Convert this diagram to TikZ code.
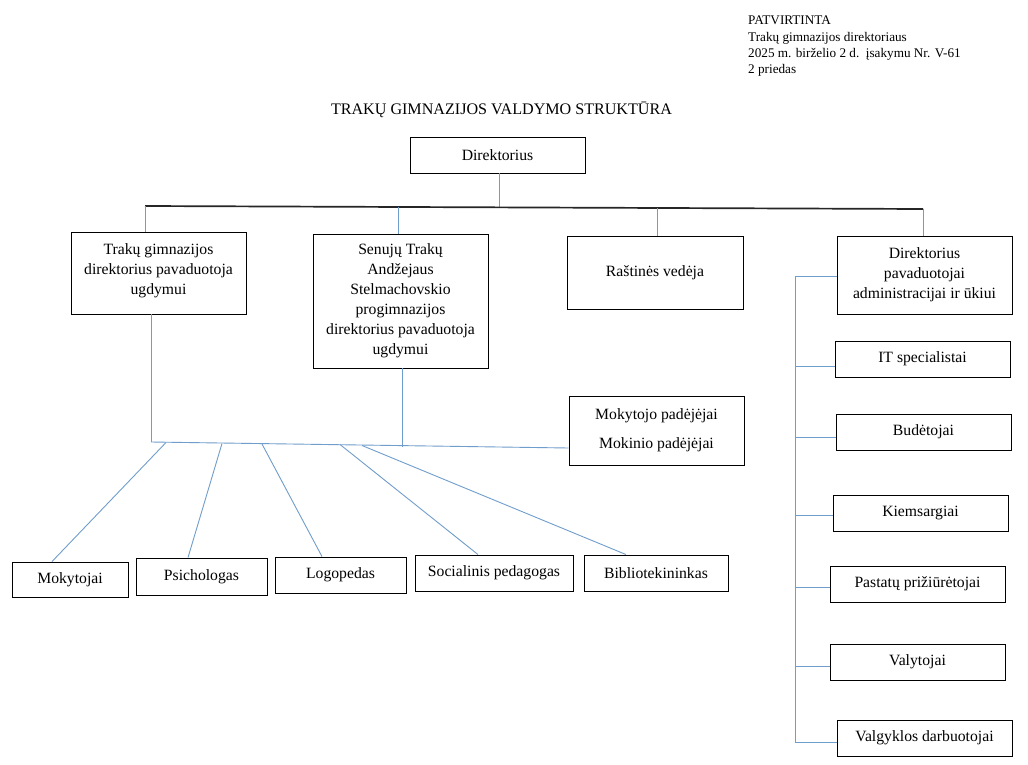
\documentclass[tikz,border=0pt]{standalone}
\usepackage{fontspec}
\setmainfont{Liberation Serif}
\definecolor{conn}{RGB}{112,158,204}
\begin{document}
\begin{tikzpicture}[x=1pt,y=-1pt,
  box/.style={draw=black,line width=0.9pt,fill=white,inner sep=0pt,align=center,
    font=\fontsize{15.7}{20}\selectfont,minimum height=36pt},
  link/.style={draw=conn,line width=0.9pt},
  mainbus/.style={draw=black!85,line width=1.7pt},
  hdr/.style={anchor=north west,align=left,inner sep=0pt,font=\fontsize{13.2}{16.3}\selectfont}]
\useasboundingbox[fill=white] (0,0) rectangle (1028,765);

% header
\node[hdr] (hdr) at (748,16) {PATVIRTINTA\\Trakų gimnazijos direktoriaus\\2025 m. birželio 2 d.\ \ įsakymu Nr. V-61\\2 priedas};
\node[inner sep=0pt,font=\fontsize{16.1}{20}\selectfont] (title) at (501.5,110) {TRAKŲ GIMNAZIJOS VALDYMO STRUKTŪRA};

% boxes
\node[box,minimum width=175pt] (dir) at (497.5,155) {Direktorius};
\node[box,minimum width=175pt,minimum height=82pt,text depth=8pt] (b1) at (158.5,273) {Trakų gimnazijos\\direktorius pavaduotoja\\ugdymui};
\node[box,minimum width=175pt,minimum height=134pt] (b2) at (400.5,301) {Senujų Trakų\\Andžejaus\\Stelmachovskio\\progimnazijos\\direktorius pavaduotoja\\ugdymui};
\node[box,minimum width=176pt,minimum height=73pt] (b3) at (655,272.5) {Raštinės vedėja};
\node[box,minimum width=175pt,minimum height=78pt] (b4) at (924.5,275) {Direktorius\\pavaduotojai\\administracijai ir ūkiui};
\node[box,minimum width=175pt,minimum height=69pt] (mp) at (656.5,430.5) {Mokytojo padėjėjai\\[9pt]Mokinio padėjėjai};

\node[box,minimum width=175pt] (it) at (922.5,359) {IT specialistai};
\node[box,minimum width=175pt] (bud) at (923.5,432) {Budėtojai};
\node[box,minimum width=175pt] (kiem) at (920.5,513) {Kiemsargiai};
\node[box,minimum width=175pt] (past) at (917.5,584) {Pastatų prižiūrėtojai};
\node[box,minimum width=175pt] (valy) at (917.5,662) {Valytojai};
\node[box,minimum width=175pt] (valg) at (924.5,738) {Valgyklos darbuotojai};

\node[box,minimum width=116pt,minimum height=35pt] (mok) at (70,579.5) {Mokytojai};
\node[box,minimum width=131pt,minimum height=37pt] (psi) at (201.5,576.5) {Psichologas};
\node[box,minimum width=131pt] (logo) at (340.5,575) {Logopedas};
\node[box,minimum width=158pt] (soc) at (494,573) {Socialinis pedagogas};
\node[box,minimum width=144pt] (bib) at (656,573) {Bibliotekininkas};

% top bus
\coordinate (t0) at (499,207.5);
\coordinate (t1) at (145,206);
\coordinate (t2) at (398,207);
\coordinate (t3) at (657,208);
\coordinate (t4) at (923,209);
\draw[link] (dir.south -| t0) -- (t0);
\draw[mainbus] (t1) -- (t4);
\draw[link] (t1) -- (t1 |- b1.north);
\draw[link] (t2) -- (t2 |- b2.north);
\draw[link] (t3) -- (t3 |- b3.north);
\draw[link] (t4) -- (t4 |- b4.north);

% middle bus
\coordinate (m1) at (151,442);
\coordinate (m2) at (402,446.5);
\coordinate (m3) at (569,448);
\draw[link] (m1 |- b1.south) -- (m1);
\draw[link] (m2 |- b2.south) -- (m2);
\draw[link] (m1) -- (m3 -| mp.west);
\coordinate (d1) at (166,442.5);
\coordinate (d2) at (222,443.5);
\coordinate (d3) at (262,444);
\coordinate (d4) at (340,444.5);
\coordinate (d5) at (362,445.5);
\draw[link] (d1) -- ([xshift=-18pt]mok.north);
\draw[link] (d2) -- ([xshift=-13.5pt]psi.north);
\draw[link] (d3) -- ([xshift=-18.5pt]logo.north);
\draw[link] (d4) -- ([xshift=-16pt]soc.north);
\draw[link] (d5) -- ([xshift=-30pt]bib.north);

% right spine
\coordinate (r1) at (795,276);
\coordinate (r2) at (795,366);
\coordinate (r3) at (795,437);
\coordinate (r4) at (795,515);
\coordinate (r5) at (795,587);
\coordinate (r6) at (795,666);
\coordinate (r7) at (795,742);
\draw[link] (r1) -- (r7);
\draw[link] (r1) -- (r1 -| b4.west);
\draw[link] (r2) -- (r2 -| it.west);
\draw[link] (r3) -- (r3 -| bud.west);
\draw[link] (r4) -- (r4 -| kiem.west);
\draw[link] (r5) -- (r5 -| past.west);
\draw[link] (r6) -- (r6 -| valy.west);
\draw[link] (r7) -- (r7 -| valg.west);
\end{tikzpicture}
\end{document}
